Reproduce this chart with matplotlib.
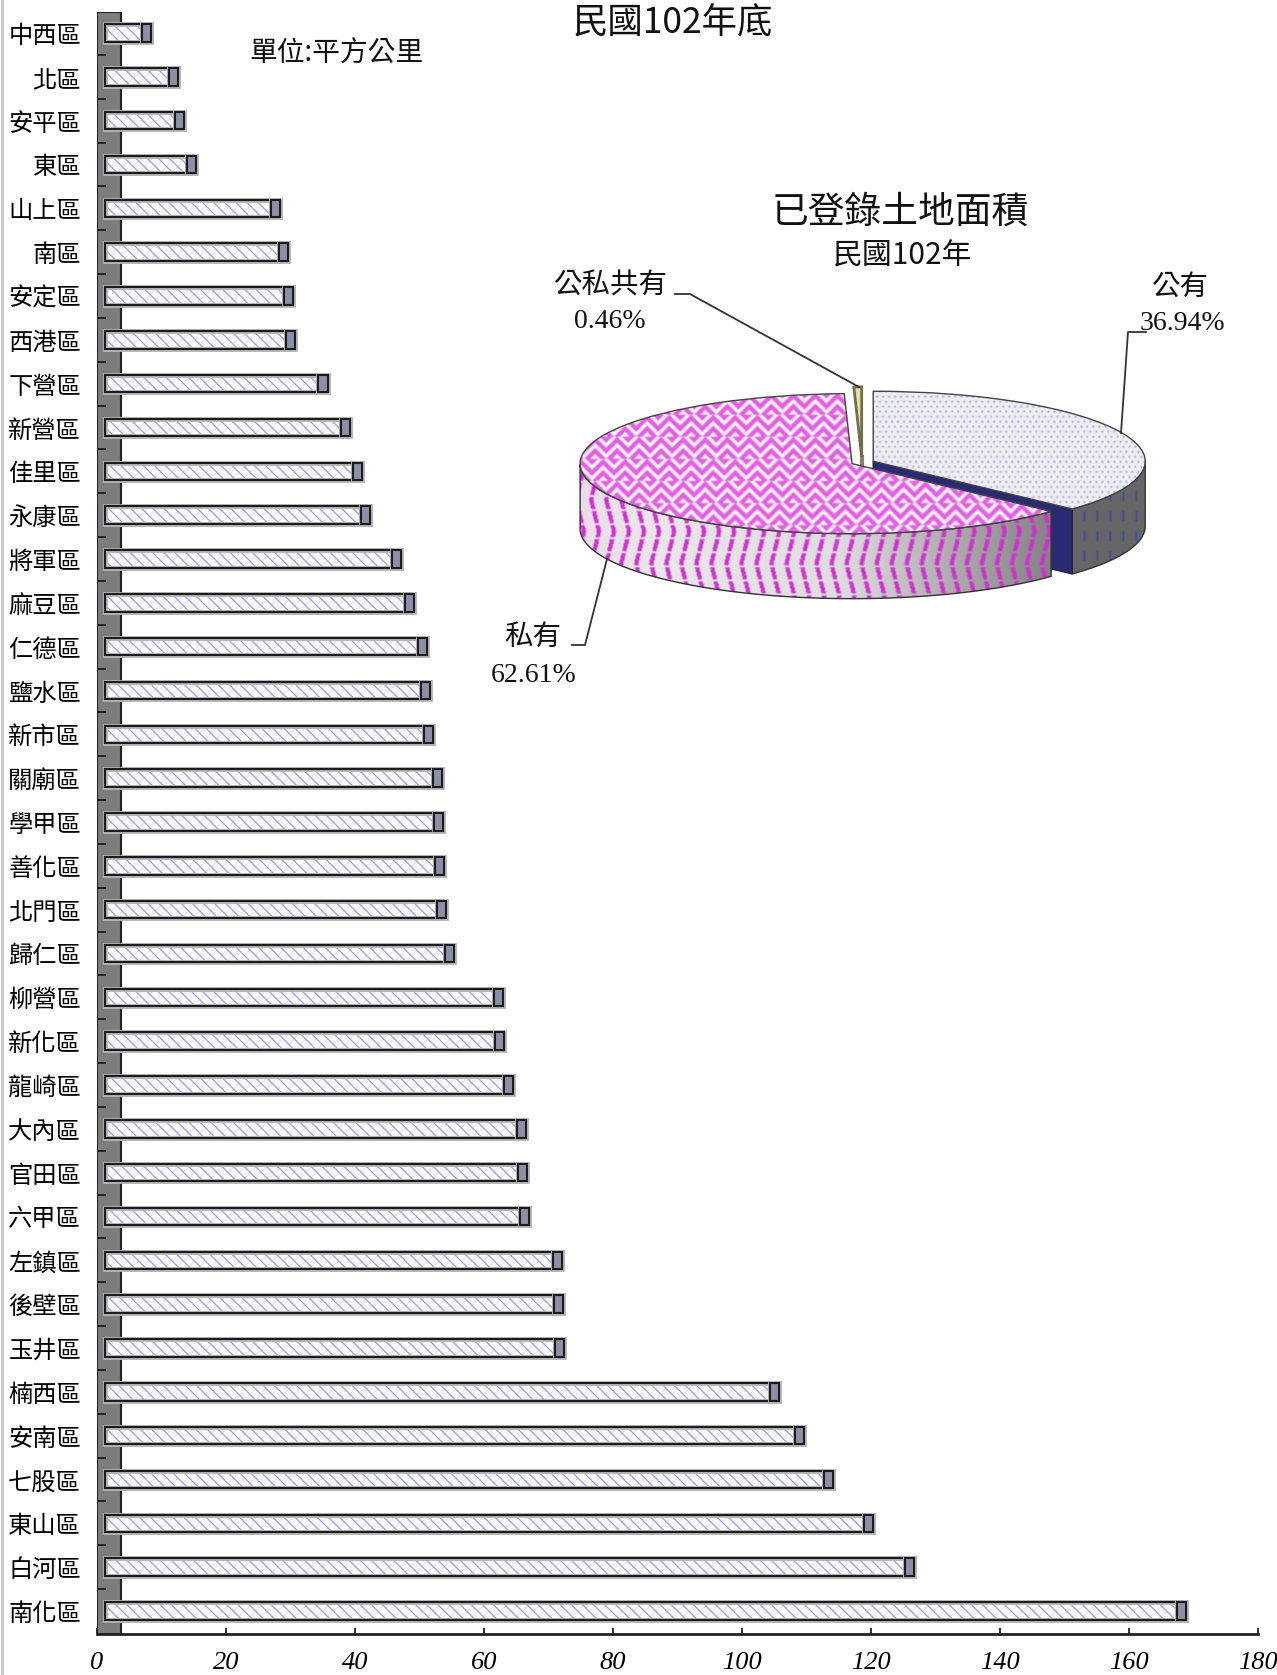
import numpy as np
import matplotlib
matplotlib.use("Agg")
import matplotlib.pyplot as plt
import matplotlib.patheffects as pe
from matplotlib.lines import Line2D
from matplotlib.patches import Polygon

plt.rcParams['font.family'] = ['Noto Sans CJK TC', 'DejaVu Sans']
plt.rcParams['hatch.linewidth'] = 0.9

WIDTH, HEIGHT = 1277, 1675

districts = ["中西區", "北區", "安平區", "東區", "山上區", "南區", "安定區", "西港區", "下營區",
             "新營區", "佳里區", "永康區", "將軍區", "麻豆區", "仁德區", "鹽水區", "新市區", "關廟區",
             "學甲區", "善化區", "北門區", "歸仁區", "柳營區", "新化區", "龍崎區", "大內區", "官田區",
             "六甲區", "左鎮區", "後壁區", "玉井區", "楠西區", "安南區", "七股區", "東山區", "白河區",
             "南化區"]
areas = [5.7, 9.9, 10.9, 12.7, 25.8, 26.9, 27.8, 28.1, 33.1,
         36.6, 38.4, 39.7, 44.5, 46.5, 48.5, 49.0, 49.5, 50.8,
         51.0, 51.2, 51.5, 52.7, 60.3, 60.5, 61.8, 63.8, 64.0,
         64.4, 69.4, 69.6, 69.7, 103.1, 106.9, 111.5, 117.7, 124.0,
         166.2]
x_ticks = [0, 20, 40, 60, 80, 100, 120, 140, 160, 180]

pie_labels = ["公有", "私有", "公私共有"]
pie_shares = [36.94, 62.61, 0.46]
pie_explode = [0.045, 0.04, 0.08]

SERIF = ['Liberation Serif', 'DejaVu Serif']


def fx(px):
    return px / WIDTH


def fy(px):
    return 1 - px / HEIGHT


def put_text(x, y, s, size, **kw):
    fig.text(fx(x), fy(y), s, fontsize=size, ha='center', va='center', color='#111111', **kw)


def leader(xs, ys):
    fig.add_artist(Line2D([fx(v) for v in xs], [fy(v) for v in ys], color='#333333', lw=1.3))


fig = plt.figure(figsize=(WIDTH / 100, HEIGHT / 100), dpi=100, facecolor='white')
fig.add_artist(Line2D([fx(2), fx(2)], [0, 1], color='#c8c8c8', lw=2))

# bars
ax = fig.add_axes([fx(97), 1 - 1634 / HEIGHT, 1161 / WIDTH, (1634 - 12) / HEIGHT])
y = np.arange(len(districts))
depth_left = 1.24
cap = 1.4
halo = [pe.withStroke(linewidth=3.5, foreground='#b4b4b4')]

ax.axvspan(0, 3.72, facecolor='#7d7d7d', edgecolor='#222222', lw=1.5, zorder=1)
ax.barh(y, areas, left=depth_left, height=0.4, facecolor='white', edgecolor='none', zorder=3)
ax.barh(y, areas, left=depth_left, height=0.4, facecolor='none', edgecolor='#e6e6ff', hatch='///', lw=0, zorder=3.5)
ax.barh(y, areas, left=depth_left, height=0.4, facecolor='none', edgecolor='#9a9af0', hatch='\\\\\\', lw=0, zorder=4)
ax.barh(y, areas, left=depth_left, height=0.4, facecolor='none', edgecolor='#1c1c1c', lw=1.5, zorder=5,
        path_effects=halo)
ax.barh(y, cap, left=np.array(areas) + depth_left, height=0.4, facecolor='#8e8ea8', edgecolor='#1c1c1c', lw=1.5,
        zorder=5, path_effects=halo)

ax.set_xlim(0, 180)
ax.set_ylim(36.525, -0.479)
ax.set_yticks(y)
ax.set_yticklabels(districts, fontsize=17.5, va='center_baseline')
ax.set_yticks(y[:-1] + 0.5, minor=True)
ax.tick_params(axis='y', which='major', length=0, pad=11.5)
ax.tick_params(axis='y', which='minor', direction='in', length=6.5, width=1.4, color='#222222')
ax.set_xticks(x_ticks)
ax.set_xticklabels(x_ticks, family=SERIF, style='italic', fontsize=19)
ax.tick_params(axis='x', direction='in', length=4.5, width=1.3, pad=13, color='#222222')
for side in ['top', 'right', 'left']:
    ax.spines[side].set_visible(False)
ax.spines['bottom'].set_linewidth(2)
ax.spines['bottom'].set_color('#222222')

# pie
rx, ry = 272, 70
cx_px, cy_px = 862, 462.5
xmin, xmax, ymin, ymax = -1.2, 1.2, -2.2, 1.3
pie = fig.add_axes([fx(cx_px + xmin * rx), 1 - (cy_px - ymin * ry) / HEIGHT,
                    (xmax - xmin) * rx / WIDTH, (ymax - ymin) * ry / HEIGHT])
wedges = pie.pie(pie_shares, startangle=90, counterclock=False, explode=pie_explode, radius=1)[0]
depth = 65 / ry

w, h = int((xmax - xmin) * rx), int((ymax - ymin) * ry)
X, Y = np.meshgrid(np.arange(w), np.arange(h))
extent = (xmin, xmax, ymin, ymax)


def rgb(c):
    return np.array(matplotlib.colors.to_rgb(c))


def paint(mask, base, ink):
    # base is a colour or an array of colours, ink goes where mask is on
    out = np.ones((h, w, 3)) * base
    out[mask] = rgb(ink)
    # soft look of the old resized picture
    return (out + np.roll(out, 1, 0) + np.roll(out, 1, 1) + np.roll(np.roll(out, 1, 0), 1, 1)) / 4


def tri(v, period):
    return np.abs((v % period) - period / 2)


def visible_side(wedge):
    t = np.radians(np.linspace(wedge.theta1, wedge.theta2, 300))
    t = t[np.sin(t) <= 0.001]
    cx, cy = wedge.center
    top = np.column_stack([cx + np.cos(t), cy + np.sin(t)])
    low = top[::-1] - [0, depth]
    return np.vstack([top, low])


def textured(arr, clip, zorder):
    im = pie.imshow(arr, extent=extent, origin='upper', aspect='auto', interpolation='bilinear', zorder=zorder)
    im.set_clip_path(clip)


pub, pri, sha = wedges

# textures for the tops and the sides
pri_top = paint((Y + tri(X + 8 * ((Y // 22) % 2), 22)) % 11 < 6, rgb('#f6f2f6'), '#e65ce6')
pub_top = paint(((X + 3 * ((Y // 5) % 2)) % 6 < 2) & (Y % 5 < 2), rgb('#efefef'), '#a4a4f4')
grad_x = np.array([0, 60, 120, 300, 420, 520, 648])
grad_v = np.array([[242, 205, 242], [232, 225, 232], [232, 232, 232], [222, 222, 222], [170, 170, 170], [128, 128, 128], [120, 120, 120]]) / 255
shade = np.stack([np.interp(X, grad_x, grad_v[:, i]) for i in range(3)], axis=2)
pri_side = paint(((X + tri(Y, 64) * 0.25) % 15 < 4.2) & (Y % 14 < 12), shade, '#d62cd6')
pub_side = paint((X % 13 < 2) & (Y % 20 < 10), rgb('#666666'), '#4a4a9a')

# public
side = Polygon(visible_side(pub), closed=True, facecolor='none', edgecolor='#333333', lw=1, zorder=2.5)
pie.add_patch(side)
textured(pub_side, side, 2)

t = np.radians(pub.theta1)
cx, cy = pub.center
pie.add_patch(Polygon([[cx, cy], [cx + np.cos(t), cy + np.sin(t)], [cx + np.cos(t), cy + np.sin(t) - depth],
                       [cx, cy - depth]], closed=True, facecolor='#2a2a72', edgecolor='#222244', lw=1, zorder=3))
pub.set(facecolor='none', edgecolor='#444444', lw=1, zorder=4.5)
textured(pub_top, pub, 4)

# shared sliver
cx, cy = sha.center
pie.plot([cx, cx], [cy, cy - depth], color='#85855c', lw=3, zorder=3.5)
sha.set(facecolor='#e4e0a8', edgecolor='#6f6f4a', lw=2, zorder=4.5)

# private
side = Polygon(visible_side(pri), closed=True, facecolor='none', edgecolor='#333333', lw=1, zorder=5.5)
pie.add_patch(side)
textured(pri_side, side, 5)
pri.set(facecolor='none', edgecolor='#444444', lw=1, zorder=6.5)
textured(pri_top, pri, 6)

pie.set_aspect('auto')
pie.set_xlim(xmin, xmax)
pie.set_ylim(ymin, ymax)

# texts
put_text(336, 54, "單位:平方公里", 20)
put_text(673, 23, "民國102年底", 25.5)
put_text(900, 212, "已登錄土地面積", 26.5)
put_text(903, 256, "民國102年", 21.5)
put_text(611, 286, pie_labels[2], 20.5)
put_text(610, 322, "%.2f%%" % pie_shares[2], 20, family=SERIF)
put_text(1180, 287, pie_labels[0], 20.5)
put_text(1182, 324, "%.2f%%" % pie_shares[0], 20, family=SERIF)
put_text(533, 637, pie_labels[1], 20.5)
put_text(534, 675, "%.2f%%" % pie_shares[1], 20, family=SERIF)

leader([675, 690, 859], [294, 294, 387])
leader([1146, 1128, 1121], [332, 332, 433])
leader([572, 585, 607], [645, 645, 559])

fig.savefig("out.png", dpi=100)
